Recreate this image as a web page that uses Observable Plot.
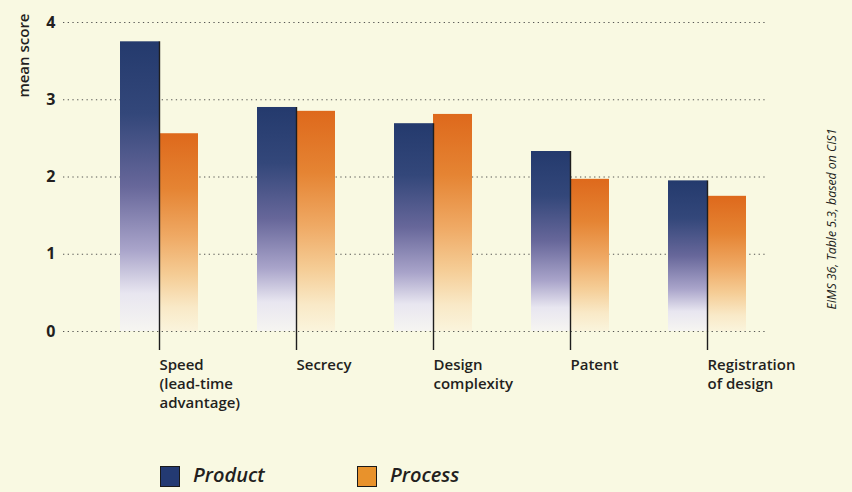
<!DOCTYPE html>
<html><head><meta charset="utf-8">
<script src="https://cdn.jsdelivr.net/npm/d3@7"></script>
<script src="https://cdn.jsdelivr.net/npm/@observablehq/plot@0.6"></script>
<style>
html,body{margin:0;padding:0;background:#f9f9e2;}
#wrap{position:relative;width:852px;height:492px;overflow:hidden;font-family:"Open Sans",sans-serif;color:#231f20;}
#chart svg{display:block;}
.sw{position:absolute;top:466px;width:20px;height:21px;box-sizing:border-box;border:1.5px solid #1a1a1a;}
.lt{position:absolute;top:460px;font-size:20px;font-style:italic;font-weight:600;line-height:30px;color:#231f20;}
</style></head><body>
<div id="wrap"><div id="chart"></div><div id="legend"></div></div>
<script>
const categories = ["Speed","Secrecy","Design complexity","Patent","Registration of design"];
const categoryLabels = ["Speed\n(lead-time\nadvantage)","Secrecy","Design\ncomplexity","Patent","Registration\nof design"];
const seriesNames = ["Product","Process"];
const productValues = [3.75, 2.90, 2.69, 2.33, 1.95];
const processValues = [2.56, 2.85, 2.81, 1.97, 1.75];
const yTicks = [0, 1, 2, 3, 4];
const seriesColors = ["#233a72", "#e8922c"];
const yLabel = "mean score";
const sourceNote = "EIMS 36, Table 5.3, based on CIS1";

const rows = [];
categories.forEach((c, i) => {
  rows.push({category: c, series: "Product", value: productValues[i]});
  rows.push({category: c, series: "Process", value: processValues[i]});
});
const productRows = rows.filter(d => d.series === "Product");
const processRows = rows.filter(d => d.series === "Process");
const labelOf = new Map(categories.map((c, i) => [c, categoryLabels[i]]));

const gradients = () => {
  const defs = d3.create("svg:defs");
  const make = (id, stops) => {
    const g = defs.append("linearGradient").attr("id", id).attr("x1", 0).attr("y1", 0).attr("x2", 0).attr("y2", 1);
    stops.forEach(([o, c]) => g.append("stop").attr("offset", o).attr("stop-color", c));
  };
  make("gProduct", [[0,"#243a6d"],[0.25,"#33477a"],[0.5,"#67679a"],[0.72,"#a9a4ca"],[0.87,"#e8e6f0"],[1,"#f6f5f1"]]);
  make("gProcess", [[0,"#de691c"],[0.28,"#e58433"],[0.52,"#efa964"],[0.72,"#f5cd96"],[0.88,"#f9e9c7"],[1,"#faf4dc"]]);
  return defs.node();
};

const W = 852, H = 450;
const chart = Plot.plot({
  width: W, height: H,
  marginLeft: 63, marginRight: 87, marginTop: 22, marginBottom: 119,
  style: {background: "transparent", fontFamily: "'Open Sans', sans-serif", color: "#231f20"},
  x: {type: "band", domain: categories, paddingInner: 0.43, paddingOuter: 0.277, align: 0.75, label: null},
  y: {domain: [0, 4], label: null},
  marks: [
    gradients,
    Plot.gridY(yTicks, {stroke: "#3a3a3a", strokeOpacity: 0.85, strokeDasharray: "1.3,3.4", strokeWidth: 1}),
    Plot.barY(productRows, {x: "category", y: "value", fill: "url(#gProduct)", insetRight: 39}),
    Plot.barY(processRows, {x: "category", y: "value", fill: "url(#gProcess)", insetLeft: 39}),
    Plot.ruleX(productRows, {x: "category", y1: 0, y2: "value", stroke: "#1e1e1e", strokeWidth: 1.4}),
    Plot.axisX({tickSize: 19, tickPadding: 6, tickFormat: d => labelOf.get(d), textAnchor: "start",
      fontSize: 15, fontWeight: 600, lineHeight: 1.27, stroke: "#1e1e1e", strokeWidth: 1.4, fill: "#231f20"}),
    Plot.axisY({ticks: yTicks, tickSize: 0, tickPadding: 8, fontSize: 16, fontWeight: 700, fill: "#231f20", tickFormat: d3.format("d")}),
    Plot.text([yLabel], {frameAnchor: "top-left", text: d => d, rotate: -90, textAnchor: "end", dx: -45, dy: -9,
      fontSize: 15, fontWeight: 600, fill: "#231f20"}),
    Plot.text([sourceNote], {frameAnchor: "right", text: d => d, rotate: -90, textAnchor: "middle", dx: 67, dy: 42,
      fontSize: 12.3, fontStyle: "italic", fill: "#231f20"})
  ]
});
document.getElementById("chart").appendChild(chart);

const legend = document.getElementById("legend");
const legendX = [[160, 193], [357, 390]];
seriesNames.forEach((s, i) => {
  const sw = document.createElement("div");
  sw.className = "sw"; sw.style.left = legendX[i][0] + "px"; sw.style.background = seriesColors[i];
  legend.appendChild(sw);
  const t = document.createElement("div");
  t.className = "lt"; t.style.left = legendX[i][1] + "px"; t.textContent = s;
  legend.appendChild(t);
});
</script>
</body></html>
